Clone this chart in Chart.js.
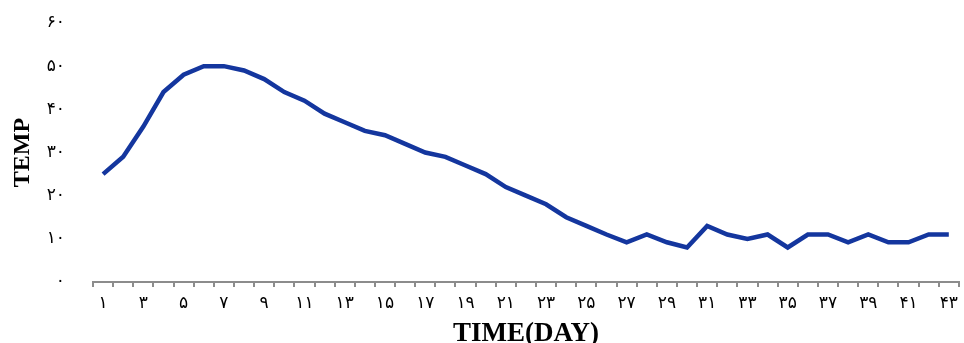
<!DOCTYPE html>
<html>
<head>
<meta charset="utf-8">
<script src="https://cdn.jsdelivr.net/npm/chart.js@4/dist/chart.umd.min.js"></script>
<style>
    html, body { margin: 0; padding: 0; background: #fff; }
    #wrap { width: 964px; height: 343px; }
</style>
</head>
<body>
<div id="wrap"><canvas id="tempChart"></canvas></div>
<script>
const days = [1, 2, 3, 4, 5, 6, 7, 8, 9, 10, 11, 12, 13, 14, 15, 16, 17, 18, 19, 20, 21,
    22, 23, 24, 25, 26, 27, 28, 29, 30, 31, 32, 33, 34, 35, 36, 37, 38, 39, 40, 41, 42, 43];
const temps = [25, 29, 36, 44, 48, 50, 50, 49, 47, 44, 42, 39, 37, 35, 34, 32, 30, 29, 27, 25, 22,
    20, 18, 15, 13, 11, 9.2, 11, 9.2, 8, 13, 11, 10, 11, 8, 11, 11, 9.2, 11, 9.2, 9.2, 11, 11];
const yTicks = [0, 10, 20, 30, 40, 50, 60];

const faDigits = '۰۱۲۳۴۵۶۷۸۹';
const toFa = n => String(n).replace(/\d/g, d => faDigits[d]);

const ctx = document.getElementById('tempChart').getContext('2d');
new Chart(ctx, {
    type: 'line',
    data: {
        labels: days.map(toFa),
        datasets: [{
            data: temps,
            borderColor: '#14369e',
            borderWidth: 4.5,
            pointRadius: 0,
            tension: 0,
            fill: false
        }]
    },
    options: {
        responsive: true,
        maintainAspectRatio: false,
        animation: false,
        layout: { padding: { top: 23, right: 5, left: 8, bottom: 0 } },
        plugins: {
            legend: { display: false },
            tooltip: { enabled: false }
        },
        scales: {
            x: {
                offset: true,
                afterFit: s => { s.height = 61; },
                grid: {
                    display: true,
                    drawOnChartArea: false,
                    drawTicks: true,
                    tickLength: 5,
                    offset: true,
                    color: '#8c8c8c',
                    lineWidth: 2
                },
                border: { display: true, color: '#8c8c8c', width: 2 },
                ticks: {
                    autoSkip: false,
                    maxRotation: 0,
                    padding: 6,
                    color: '#000',
                    font: { family: 'DejaVu Sans', size: 17 },
                    callback: function (v, i) { return i % 2 === 0 ? this.getLabelForValue(v) : ''; }
                },
                title: {
                    display: true,
                    text: 'TIME(DAY)',
                    color: '#000',
                    font: { family: 'Liberation Serif', size: 27, weight: 'bold' },
                    padding: { top: 0, bottom: -7 }
                }
            },
            y: {
                min: 0,
                max: 60,
                afterFit: s => { s.width = 85; s.paddingTop = 0; s.paddingBottom = 0; },
                afterBuildTicks: s => { s.ticks = yTicks.map(v => ({ value: v })); },
                grid: { display: false },
                border: { display: false },
                ticks: {
                    padding: 20,
                    color: '#000',
                    font: { family: 'DejaVu Sans', size: 17 },
                    callback: v => toFa(v)
                },
                title: {
                    display: true,
                    text: 'TEMP',
                    color: '#000',
                    font: { family: 'Liberation Serif', size: 24, weight: 'bold' },
                    padding: { top: 0, bottom: 0 }
                }
            }
        }
    }
});
</script>
</body>
</html>
